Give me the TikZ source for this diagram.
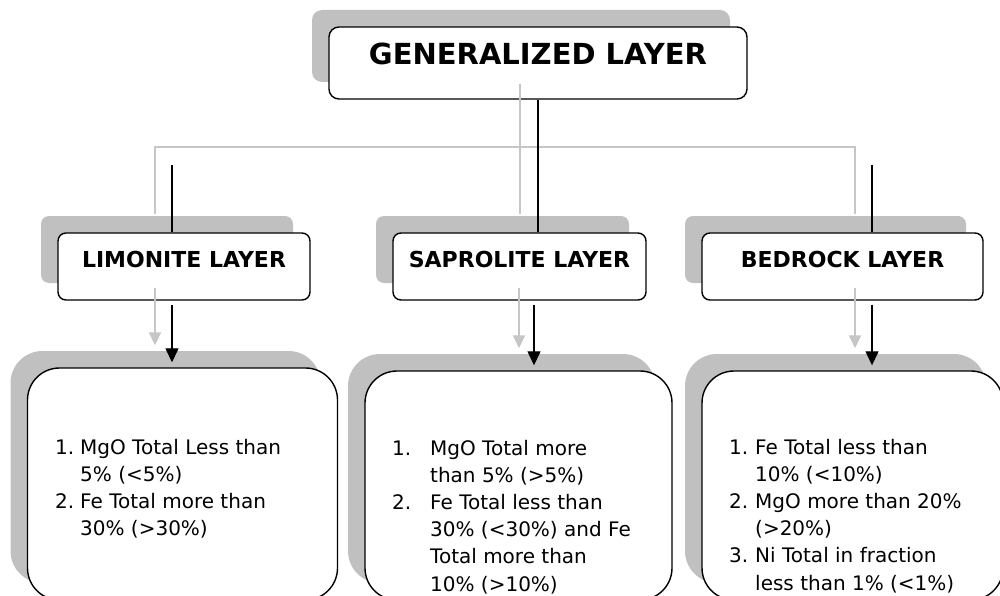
\documentclass[tikz,border=0pt]{standalone}
\usepackage{fontspec}
\setmainfont{DejaVu Sans}
\usetikzlibrary{arrows.meta,shadows}
\definecolor{shgrey}{HTML}{C0C0C0}
\definecolor{lngrey}{HTML}{C6C6C6}
\begin{document}
\begin{tikzpicture}[x=1pt,y=-1pt,
  box/.style={draw=black, line width=1.4pt, fill=white, inner sep=0pt,
    general shadow={fill=shgrey, shadow xshift=-17pt, shadow yshift=17pt}},
  titlebox/.style={box, rounded corners=10pt, font=\bfseries\fontsize{29}{30}\selectfont,
    text height=21pt, text depth=18pt},
  layerbox/.style={box, rounded corners=8pt, minimum height=67pt,
    font=\bfseries\fontsize{22}{24}\selectfont, text height=16pt, text depth=15pt},
  contbox/.style={box, rounded corners=32pt},
  listtext/.style={inner sep=0pt, anchor=base west, font=\fontsize{20}{27.2}\selectfont},
  conn/.style={draw=black, line width=1.3pt},
  gline/.style={draw=lngrey, line width=2pt},
  arr/.style={conn, -{Triangle[width=13pt,length=14pt]}, shorten <=4pt, shorten >=5pt},
  garr/.style={gline, -{Triangle[width=12pt,length=13pt]}, shorten <=4pt, shorten >=5pt}
]
\useasboundingbox (0,0) rectangle (1000,596);
\clip (0,0) rectangle (1000,596);

% boxes
\node[titlebox, minimum width=418pt, minimum height=72pt] (gen) at (538,63) {GENERALIZED LAYER};
\node[layerbox, minimum width=252pt] (lim) at (184,266.5) {LIMONITE LAYER};
\node[layerbox, minimum width=253pt] (sap) at (519.5,266.5) {SAPROLITE LAYER};
\node[layerbox, minimum width=281pt] (bed) at (842.5,266.5) {BEDROCK LAYER};
\node[contbox, minimum width=310pt, minimum height=232pt] (limc) at (182.5,484) {};
\node[contbox, minimum width=307pt, minimum height=229pt] (sapc) at (518.5,485.5) {};
\node[contbox, minimum width=301pt, minimum height=229pt] (bedc) at (852.5,485.5) {};

% texts
\node[listtext] (limt) at (55,454) {\begin{tabular}[t]{@{}p{25pt}@{}l@{}}
1.&MgO Total Less than\\&5\% (<5\%)\\2.&Fe Total more than\\&30\% (>30\%)\end{tabular}};
\node[listtext] (sapt) at (392,455) {\begin{tabular}[t]{@{}p{38pt}@{}l@{}}
1.&MgO Total more\\&than 5\% (>5\%)\\2.&Fe Total less than\\&30\% (<30\%) and Fe\\&Total more than\\&10\% (>10\%)\end{tabular}};
\node[listtext] (bedt) at (729,454) {\begin{tabular}[t]{@{}p{26pt}@{}l@{}}
1.&Fe Total less than\\&10\% (<10\%)\\2.&MgO more than 20\%\\&(>20\%)\\3.&Ni Total in fraction\\&less than 1\% (<1\%)\end{tabular}};

% connector points
\coordinate (limx) at (172,165);
\coordinate (bedx) at (872,165);
\coordinate (sapx) at (534,0);
\coordinate (limtop) at (limx |- lim.north);
\coordinate (bedtop) at (bedx |- bed.north);
\coordinate (midtop) at (gen.south |- sap.north);
\coordinate (limas) at (limx |- lim.south);
\coordinate (limae) at (limx |- limc.north);
\coordinate (sapas) at (sapx |- sap.south);
\coordinate (sapae) at (sapx |- sapc.north);
\coordinate (bedas) at (bedx |- bed.south);
\coordinate (bedae) at (bedx |- bedc.north);

% grey shadow connectors
\draw[gline] ([shift={(-17,-18)}]limtop) -- ([shift={(-17,-18)}]limx)
  -- ([shift={(-17,-18)}]bedx) -- ([shift={(-17,-18)}]bedtop);
\draw[gline] ([shift={(-18,-16)}]gen.south) -- ([shift={(-18,-18)}]midtop);
\draw[garr] ([shift={(-17,-17)}]limas) -- ([shift={(-17,-17)}]limae);
\draw[garr] ([shift={(-15,-17)}]sapas) -- ([shift={(-15,-17)}]sapae);
\draw[garr] ([shift={(-17,-17)}]bedas) -- ([shift={(-17,-17)}]bedae);

% black connectors
\draw[conn] (limx) -- (limtop);
\draw[conn] (bedx) -- (bedtop);
\draw[conn] (gen.south) -- (midtop);
\draw[arr] (limas) -- (limae);
\draw[arr] (sapas) -- (sapae);
\draw[arr] (bedas) -- (bedae);
\end{tikzpicture}
\end{document}
